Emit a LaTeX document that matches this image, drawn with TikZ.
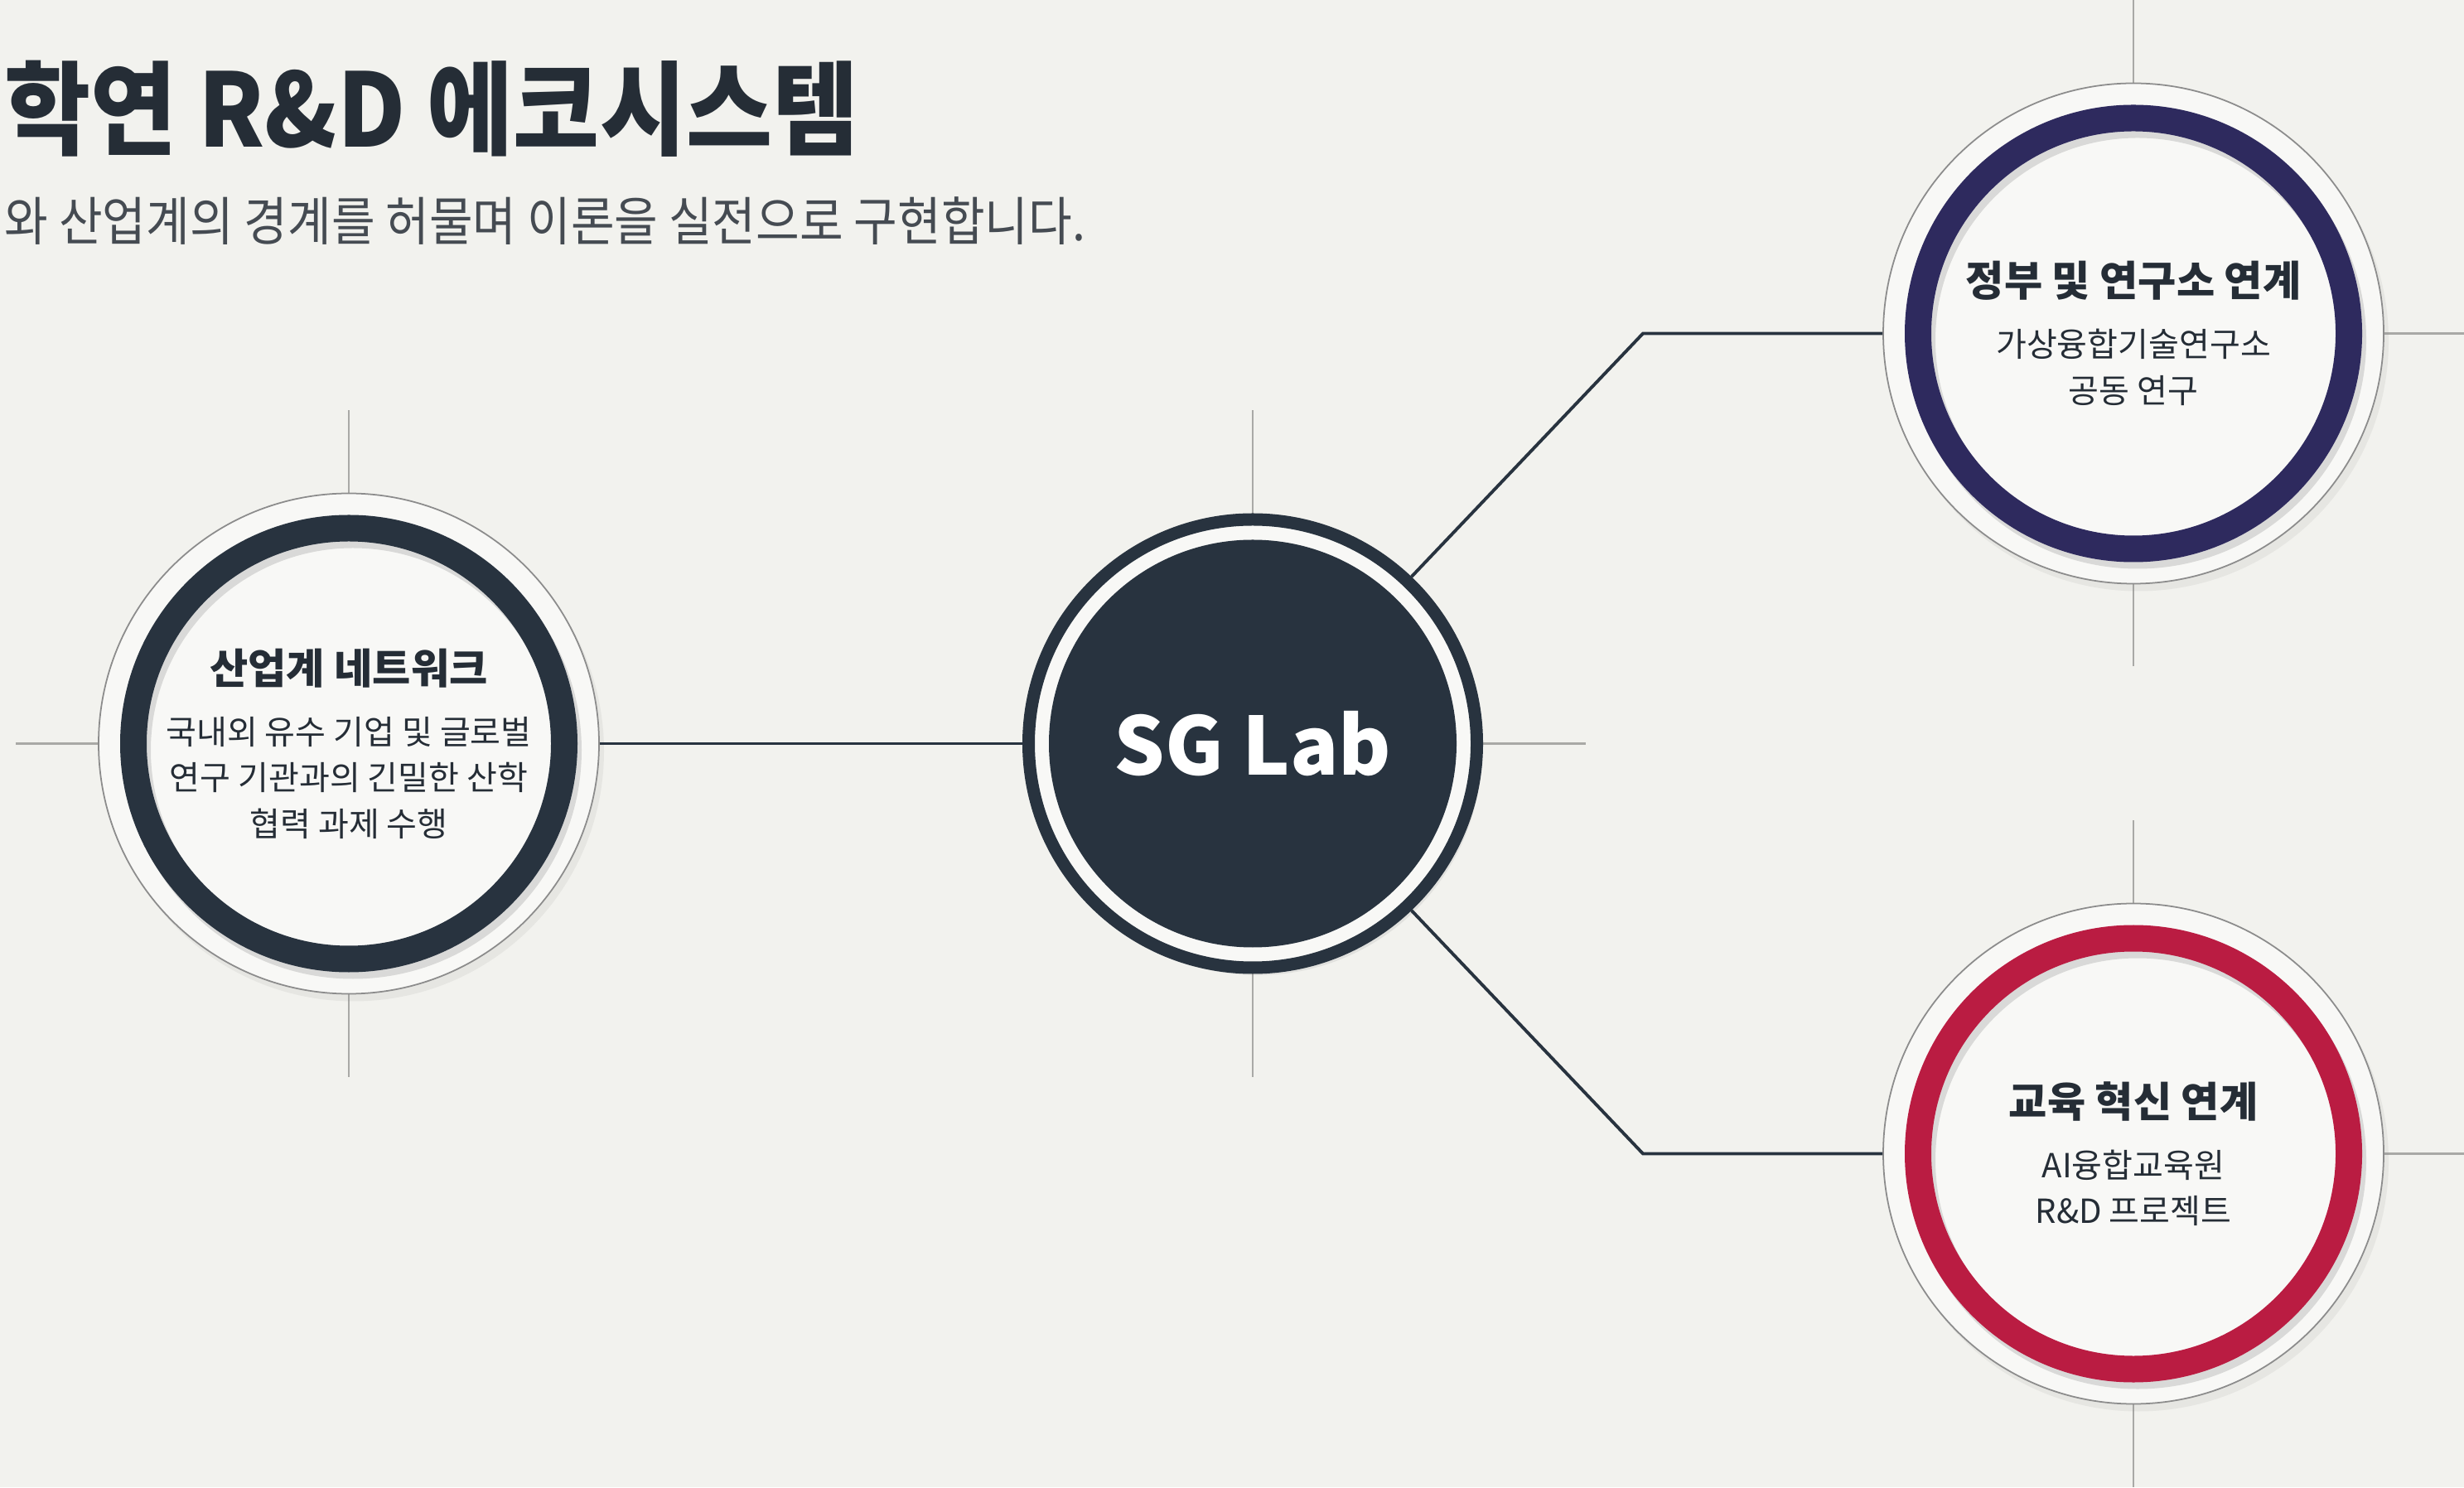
\documentclass[tikz,border=0pt]{standalone}
\usepackage{fontspec}
\usepackage{xcolor}
\usepackage{tikz}
\usetikzlibrary{positioning,shadows}

\setmainfont{Noto Sans CJK KR}
\newfontfamily\headfont[FakeStretch=0.92]{Noto Sans CJK KR}
\newfontfamily\leadfont[FakeStretch=0.905]{Noto Sans CJK KR}

\definecolor{canvas}{HTML}{F2F2EE}
\definecolor{disc}{HTML}{F8F8F6}
\definecolor{navy}{HTML}{28333F}
\definecolor{govring}{HTML}{2E2A5E}
\definecolor{eduring}{HTML}{BA1C42}
\definecolor{ink}{HTML}{252D36}
\definecolor{lead}{HTML}{454B52}
\definecolor{hair}{HTML}{A9A9A6}
\definecolor{rim}{HTML}{8C8C8C}

\pgfdeclarelayer{paper}
\pgfdeclarelayer{background}
\pgfsetlayers{paper,background,main}

\newcommand\nodehead{\bfseries\fontsize{14.3}{16}\selectfont}

\begin{document}
\begin{tikzpicture}[on grid,
    partner/.style = {circle, minimum size = 6.04cm, draw = rim, line width = 0.5pt, fill = disc,
        text = ink, align = center, font = \fontsize{11.4}{15.8}\selectfont,
        drop shadow = {opacity = 0.10, shadow xshift = 0.6mm, shadow yshift = -0.9mm},
        path picture = {
            \draw [line width = 3.2mm, black, opacity = 0.12] ([shift = {(0.5mm, -0.8mm)}]path picture bounding box.center) circle (2.6cm);
            \draw [line width = 3.2mm, #1] (path picture bounding box.center) circle (2.6cm);
        }}]
    \tikzstyle{hub} = [circle, minimum size = 5.41cm, draw = navy, line width = 1.5mm, fill = disc,
        text = white, font = \bfseries\fontsize{27.5}{27.5}\selectfont,
        drop shadow = {opacity = 0.14, shadow xshift = 0.6mm, shadow yshift = -0.9mm},
        path picture = {\fill [navy] (path picture bounding box.center) circle (2.46cm);}]
    \tikzstyle{link} = [draw = navy, line width = 1.1pt]
    \tikzstyle{cross} = [draw = hair, line width = 0.6pt]

    \useasboundingbox (0, 0) rectangle (29.74, 17.95);

    \node [anchor = base west, inner xsep = 0pt, text = ink, font = \headfont\bfseries\fontsize{35}{35}\selectfont] (heading) at (0.05, 16.17) {학연 R\&D 에코시스템};
    \node [anchor = base west, inner xsep = 0pt, text = lead, font = \leadfont\fontsize{18}{18}\selectfont] (lead) at (0.05, 15.04) {와 산업계의 경계를 허물며 이론을 실전으로 구현합니다.};

    \node [hub] (lab) at (15.12, 8.975) {SG Lab};

    \node [partner = navy, left = 10.91cm of lab] (ind) {{\nodehead 산업계 네트워크}\\[5pt] 국내외 유수 기업 및 글로벌\\ 연구 기관과의 긴밀한 산학\\ 협력 과제 수행};
    \node [partner = govring, above right = 4.95cm and 10.63cm of lab] (gov) {{\nodehead 정부 및 연구소 연계}\\[5pt] 가상융합기술연구소\\ 공동 연구};
    \node [partner = eduring, below right = 4.95cm and 10.63cm of lab] (edu) {{\nodehead 교육 혁신 연계}\\[5pt] AI융합교육원\\ R\&D 프로젝트};

    \coordinate [above right = 4.95cm and 4.71cm of lab] (kneeup);
    \coordinate [below right = 4.95cm and 4.71cm of lab] (kneedown);

    \draw [link] (ind) -- (lab);
    \draw [link] (lab) -- (kneeup) -- (gov);
    \draw [link] (lab) -- (kneedown) -- (edu);

    % guide lines behind the circles
    \begin{pgfonlayer}{background}
        \foreach \n in {ind, lab, gov, edu}
            \draw [cross] ([xshift = -4.02cm]\n.center) -- ([xshift = 4.02cm]\n.center)
                          ([yshift = -4.02cm]\n.center) -- ([yshift = 4.02cm]\n.center);
    \end{pgfonlayer}
    \begin{pgfonlayer}{paper}
        \fill [canvas] (0, 0) rectangle (29.74, 17.95);
    \end{pgfonlayer}
\end{tikzpicture}
\end{document}
